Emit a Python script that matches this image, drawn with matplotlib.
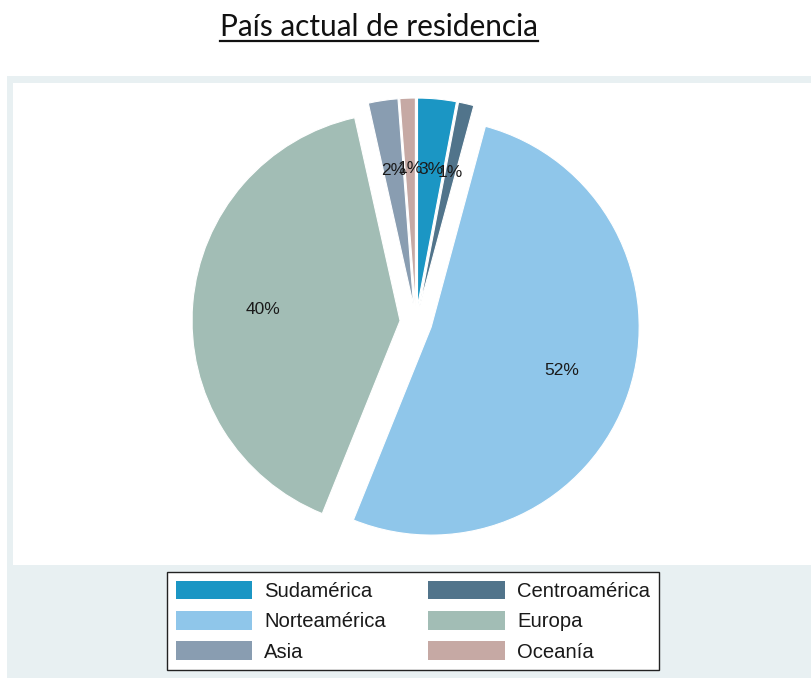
import matplotlib
matplotlib.use("Agg")
import matplotlib.pyplot as plt
from matplotlib.patches import Rectangle, Patch
from matplotlib.lines import Line2D

# Data
categories = ["Sudamérica", "Centroamérica", "Norteamérica", "Europa", "Asia", "Oceanía"]
values = [3.0, 1.2, 51.9, 40.4, 2.3, 1.2]
colors = ["#1b96c4", "#51748b", "#8fc6ea", "#a2bdb5", "#899db1", "#c6a9a4"]
title = "País actual de residencia"

W, H = 812, 678
fig = plt.figure(figsize=(W / 100, H / 100), dpi=100)
ax = fig.add_axes([0, 0, 1, 1])

def py(y):  # convert top-down pixel y to data y
    return H - y

# Background panels
ax.add_patch(Rectangle((7, py(678)), W - 7, 678 - 76, facecolor="#e8f0f2", edgecolor="none", zorder=0))
ax.add_patch(Rectangle((13, py(565)), W - 13 + 5, 565 - 83, facecolor="white", edgecolor="none", zorder=0.5))

cx, cy, r = 416, py(322), 208
expl = [16] * len(values)
wedges, texts, autotexts = ax.pie(
    values, colors=colors, startangle=90, counterclock=False,
    center=(cx, cy), radius=r, explode=expl,
    autopct="%1.0f%%", pctdistance=0.66,
    wedgeprops=dict(edgecolor="white", linewidth=0.8),
    textprops=dict(fontsize=12.5, color="#1a1a1a", family="Liberation Sans"),
    frame=False,
)
for w in wedges:
    w.set_zorder(2)
for t in autotexts:
    t.set_zorder(3)

ax.set_xlim(0, W)
ax.set_ylim(0, H)
ax.set_aspect("equal")
ax.axis("off")

# Title with underline
t = ax.text(379, py(27), title, ha="center", va="center", fontsize=21.4,
            family="Lato", color="#111111")
fig.canvas.draw()
bb = t.get_window_extent(renderer=fig.canvas.get_renderer())
ax.add_line(Line2D([bb.x0, bb.x1], [py(41), py(41)], color="#111111", linewidth=1.6))

# Legend
handles = [Patch(facecolor=c, edgecolor="none") for c in colors]
order = [0, 2, 4, 1, 3, 5]
leg = fig.legend([handles[i] for i in order], [categories[i] for i in order],
                 ncol=2, loc="upper left",
                 bbox_to_anchor=(167 / W, 1 - 572 / H),
                 prop=dict(family="Liberation Sans", size=14.6),
                 handlelength=3.75, handleheight=1.04, handletextpad=0.62,
                 columnspacing=2.1, labelspacing=0.5, borderpad=0.42,
                 borderaxespad=0, fancybox=False, framealpha=1,
                 edgecolor="#222222", facecolor="white")
leg.get_frame().set_linewidth(1.0)
for txt in leg.get_texts():
    txt.set_color("#1a1a1a")

fig.savefig("out.png", dpi=100)
